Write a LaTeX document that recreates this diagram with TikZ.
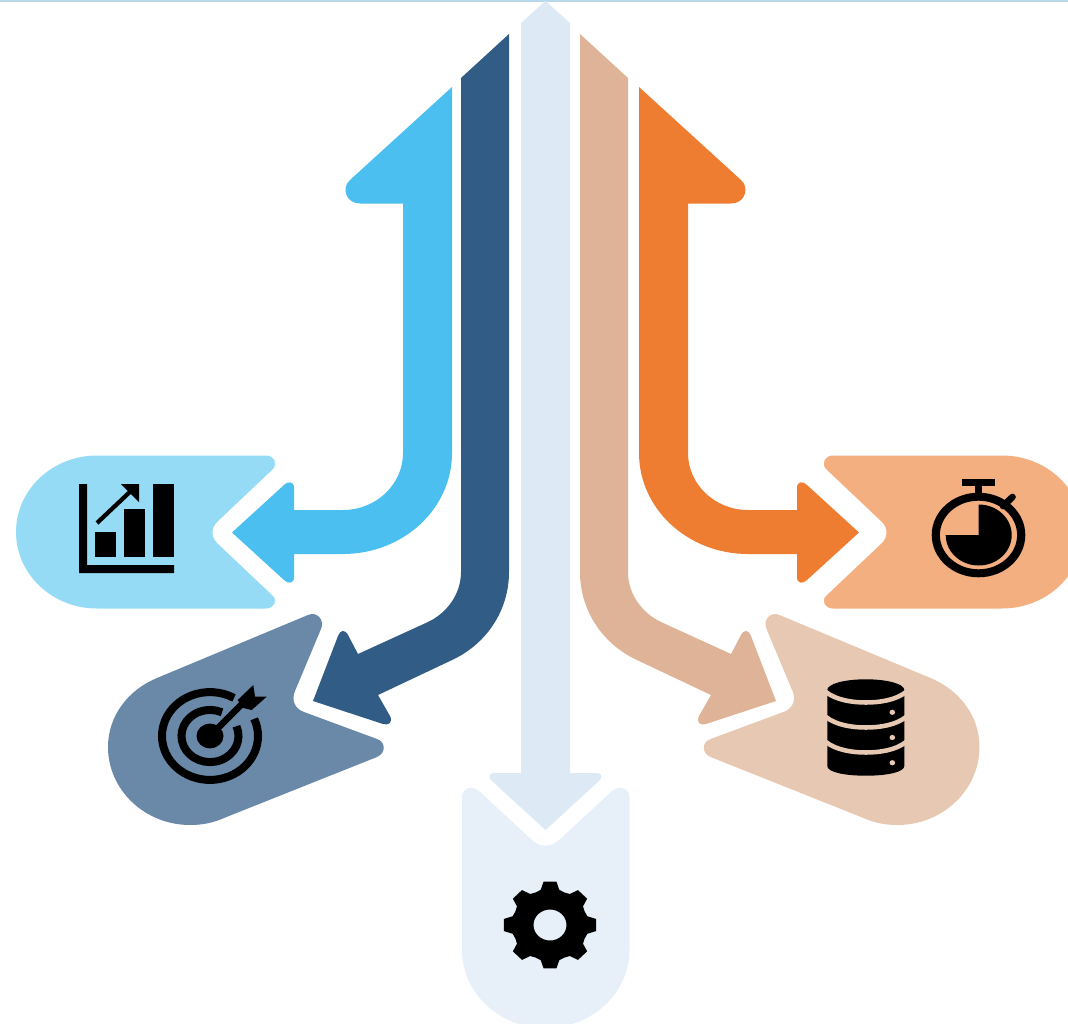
\documentclass[tikz,border=0pt]{standalone}
\definecolor{cBlue}{HTML}{4BBFF0}
\definecolor{cBlueL}{HTML}{95DBF6}
\definecolor{cNavy}{HTML}{305C85}
\definecolor{cNavyL}{HTML}{6A88A8}
\definecolor{cPale}{HTML}{DDE9F5}
\definecolor{cPaleL}{HTML}{E7F0F8}
\definecolor{cTan}{HTML}{DEB397}
\definecolor{cTanL}{HTML}{E6C8B3}
\definecolor{cOrange}{HTML}{EE7D31}
\definecolor{cOrangeL}{HTML}{F4AF81}
\definecolor{cTop}{HTML}{B9D8EA}
\def\PathSideArrow{(452,87) -- (350,180) .. controls (341,188) and (346,203.5) .. (360,203.5) -- (403,203.5) -- (403,453) .. controls (403,484.5) and (376,510) .. (343,510) -- (294,510) -- (294,488) .. controls (294,481) and (288,481) .. (284,485) -- (232,532.5) -- (284,580) .. controls (288,584) and (294,584) .. (294,577) -- (294,554) -- (343,554) .. controls (403,554) and (452,509) .. (452,453) -- cycle}
\def\PathSideBubble{(97,455.5) -- (266,455.5) .. controls (274,455.5) and (278,463) .. (273,469) -- (217,522) .. controls (211,528) and (211,537) .. (217,543) -- (273,596) .. controls (278,601) and (274,608.5) .. (266,608.5) -- (97,608.5) .. controls (52,608.5) and (16,574) .. (16,532) .. controls (16,490) and (52,455.5) .. (97,455.5) -- cycle}
\def\PathDiagArrow{(509,34) -- (461,78) -- (461,572) .. controls (461,594) and (447,613) .. (428,622) -- (358,654) -- (348,635) .. controls (345,629) and (340,630) .. (338,636) -- (313,701) -- (383,724) .. controls (389,726) and (393,722) .. (390,716) -- (378,695) -- (450,661) .. controls (486,645) and (509,611) .. (509,572) -- cycle}
\def\PathDiagBubble{(157,678) -- (308,615) .. controls (317,611) and (325,620) .. (321,629) -- (295,691) .. controls (291,700) and (295,709) .. (304,712) -- (377,739) .. controls (386,742) and (386,753) .. (377,757) -- (224,818) .. controls (213,823) and (202,825) .. (190,825) .. controls (145,825) and (108,790) .. (108,747) .. controls (108,716) and (128,690) .. (157,678) -- cycle}
\begin{document}
\begin{tikzpicture}[x=0.75pt,y=-0.75pt,
  ringline/.style={draw=black,line width=6pt}]
\useasboundingbox (0,0) rectangle (1068,1024);
\clip (0,0) rectangle (1068,1024);
\fill[cTop] (0,0) rectangle (1068,2);

% left pair
\fill[cBlue] \PathSideArrow;
\fill[cBlueL] \PathSideBubble;
\fill[cNavy] \PathDiagArrow;
\fill[cNavyL] \PathDiagBubble;

% right pair (mirrored)
\begin{scope}[shift={(1091,0)},xscale=-1]
  \fill[cOrange] \PathSideArrow;
\end{scope}
\begin{scope}[shift={(1099,0)},xscale=-1]
  \fill[cOrangeL] \PathSideBubble;
\end{scope}
\begin{scope}[shift={(1089,0)},xscale=-1]
  \fill[cTan] \PathDiagArrow;
\end{scope}
\begin{scope}[shift={(1087.5,0)},xscale=-1]
  \fill[cTanL] \PathDiagBubble;
\end{scope}

% centre arrow and bubble
\fill[cPale] (545.5,1) -- (521,23) -- (521,773) -- (494,773) .. controls (489,773) and (488,778) .. (492,781) -- (545.5,830) -- (599,781) .. controls (603,778) and (602,773) .. (597,773) -- (570,773) -- (570,23) -- cycle;
\fill[cPaleL] (462,797) .. controls (462,788) and (472,785) .. (479,791) -- (532,840) .. controls (540,847.5) and (551,847.5) .. (559,840) -- (612,791) .. controls (619,785) and (629.5,788) .. (629.5,797) -- (629.5,950) .. controls (629.5,993) and (592,1028) .. (545.5,1028) .. controls (499,1028) and (462,993) .. (462,950) -- cycle;

% chart icon
\fill[black] (79,484) -- (87,484) -- (87,565) -- (174,565) -- (174,573) -- (79,573) -- cycle;
\fill[black] (95,532) rectangle (116,557);
\fill[black] (124,509) rectangle (145,557);
\fill[black] (153,484) rectangle (174,557);
\draw[black,line width=3.2pt] (97,523) -- (133,489);
\fill[black] (121,484) -- (139,484) -- (139,502) -- cycle;

% target icon
\begin{scope}[shift={(210,736)},yscale=0.915]
  \draw[ringline] (-23:48) arc[start angle=-23,end angle=300,radius=48];
  \draw[ringline] (-22:28.5) arc[start angle=-22,end angle=295,radius=28.5];
  \fill[black] (0,0) circle[radius=13.5];
\end{scope}
\draw[cNavyL,line width=9pt] (219,727) -- (240,706);
\draw[black,line width=5pt] (212,734) -- (243,703);
\fill[black] (253.3,685) -- (255,696.7) -- (266.7,696.7) -- (251.7,710) -- (243.3,708) -- (237.7,700) -- cycle;

% stopwatch icon
\fill[black] (962.3,479) rectangle (995,485.7);
\fill[black] (975,485) rectangle (982.3,496);
\draw[black,line width=5pt,line cap=round] (1003,506) -- (1012.5,497);
\fill[black,even odd rule] (978.5,535) ellipse[x radius=46.8,y radius=42.3] (978.5,535) ellipse[x radius=38.6,y radius=34.3];
\fill[black] (978.7,535) -- (945.7,535) arc[start angle=180,end angle=450,x radius=33,y radius=-30.5] -- cycle;

% database icon
\fill[black] (827.3,690) .. controls (827.3,684) and (844,679.3) .. (865.8,679.3) .. controls (887.6,679.3) and (904.3,684) .. (904.3,690) -- (904.3,766) .. controls (904.3,772) and (887.6,775.7) .. (865.8,775.7) .. controls (844,775.7) and (827.3,772) .. (827.3,766) -- cycle;
\foreach \yy in {692,717,742}{
  \draw[cTanL,line width=3.4pt] (826,\yy) .. controls (836,\yy+8) and (852,\yy+10.5) .. (865.8,\yy+10.5) .. controls (880,\yy+10.5) and (896,\yy+8) .. (906,\yy);
}
\foreach \yy in {712.3,737.5,762.7}{
  \fill[cTanL] (892.3,\yy) ellipse[x radius=2.8,y radius=2.6];
}

% gear icon
\begin{scope}[shift={(550,925)},yscale=0.94]
  \fill[black,even odd rule]
    (-8:46.5)
    \foreach \a in {0,45,...,315}{
      -- (\a-8:46.5) -- (\a+8:46.5) -- (\a+14:38.5) -- (\a+22.5:37.5) -- (\a+31:38.5)
    } -- cycle
    (0,0) circle[radius=16.5];
\end{scope}
\end{tikzpicture}
\end{document}
